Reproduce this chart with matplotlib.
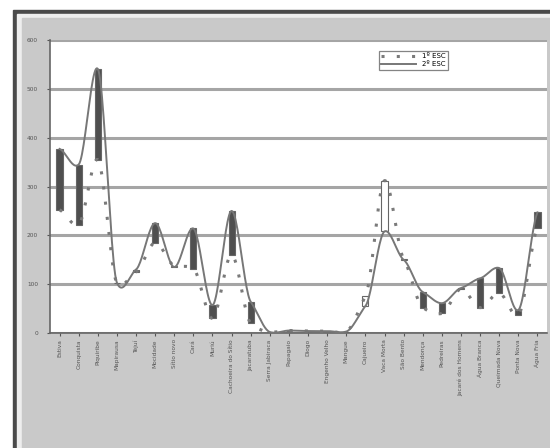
import matplotlib.pyplot as plt
import numpy as np
from matplotlib import patches

# place names (very blurry, best guesses)
locais = ["Estiva", "Conquista", "Piquiribe", "Mapirausa", "Tejuí", "Mocidade",
          "Sítio novo", "Cará", "Muriú", "Cachoeira do Sítio", "Jacaratuba",
          "Serra Jabiraca", "Papagaio", "Diogo", "Engenho Velho", "Mangue",
          "Cajueiro", "Vaca Morta", "São Bento", "Mendonça", "Pedreiras",
          "Jacaré dos Homens", "Água Branca", "Queimada Nova", "Ponta Nova",
          "Água Fria"]
esc1 = [252, 222, 355, 103, 125, 185, 138, 132, 30, 160, 20, 2, 5, 4, 4, 3,
        75, 312, 152, 52, 40, 90, 52, 82, 37, 216]
esc2 = [377, 345, 541, 103, 130, 225, 135, 214, 57, 250, 64, 2, 5, 4, 4, 3,
        55, 208, 150, 84, 61, 92, 112, 133, 47, 247]
yticks = [0, 100, 200, 300, 400, 500, 600]


def smooth(xs, ys, n=24, tension=0.45):
    # smoothed line through the points (hermite, reduced tangents)
    xs = np.asarray(xs, float)
    ys = np.asarray(ys, float)
    m = np.zeros_like(ys)
    m[1:-1] = tension * (ys[2:] - ys[:-2]) / 2
    m[0] = tension * (ys[1] - ys[0])
    m[-1] = tension * (ys[-1] - ys[-2])
    t = np.linspace(0, 1, n)
    h00 = 2 * t ** 3 - 3 * t ** 2 + 1
    h10 = t ** 3 - 2 * t ** 2 + t
    h01 = -2 * t ** 3 + 3 * t ** 2
    h11 = t ** 3 - t ** 2
    out_x, out_y = [], []
    for i in range(len(xs) - 1):
        out_x.append(xs[i] + t * (xs[i + 1] - xs[i]))
        out_y.append(h00 * ys[i] + h10 * m[i] + h01 * ys[i + 1] + h11 * m[i + 1])
    return np.concatenate(out_x), np.concatenate(out_y)


fig = plt.figure(figsize=(5.5, 4.48), dpi=100, facecolor="white")

# scanned chart frame: dark shadow edge + gray chart area
fig.patches.append(patches.Rectangle((13 / 550, 0), 1, 1 - 10 / 448,
                                     transform=fig.transFigure,
                                     color="#4a4a4a", zorder=-10))
fig.patches.append(patches.Rectangle((17 / 550, 0), 1, 1 - 14 / 448,
                                     transform=fig.transFigure,
                                     color="#eeeeee", zorder=-9))
fig.patches.append(patches.Rectangle((22 / 550, 0), 1, 1 - 18 / 448,
                                     transform=fig.transFigure,
                                     color="#c9c9c9", zorder=-8))

ax = fig.add_axes([50 / 550, 115 / 448, 497 / 550, 293 / 448])
ax.set_zorder(1)
ax.set_facecolor("white")

x = np.arange(len(locais))
e1 = np.array(esc1)
e2 = np.array(esc2)

# up/down bars between the two series
diff = e2 - e1
cores = ["#4f4f4f" if d >= 0 else "white" for d in diff]
ax.bar(x, diff, bottom=e1, width=0.32, color=cores, edgecolor="#666666",
       linewidth=0.8, zorder=3)

sx, sy = smooth(x, e1)
ax.plot(sx, sy, color="#7a7a7a", lw=2.2, linestyle=(0, (1.0, 4.0)),
        zorder=4, label="1º ESC")
sx, sy = smooth(x, e2)
ax.plot(sx, sy, color="#777777", lw=1.4, zorder=4, label="2º ESC")

ax.set_xlim(-0.5, len(locais) - 0.5)
ax.set_ylim(0, 600)
ax.set_yticks(yticks)
ax.set_yticklabels([str(v) for v in yticks], fontsize=4.2, color="#444444")
ax.yaxis.grid(True, color="#a5a5a5", lw=2.2)
ax.set_axisbelow(True)
ax.set_xticks(x)
ax.set_xticklabels(locais, rotation=90, fontsize=4.2, color="#444444")
ax.tick_params(axis="both", length=2.5, width=0.8, colors="#555555", pad=2)
ax.tick_params(axis="y", pad=6)
for side in ["top", "right"]:
    ax.spines[side].set_visible(False)
for side in ["left", "bottom"]:
    ax.spines[side].set_color("#666666")
    ax.spines[side].set_linewidth(1.2)

leg = ax.legend(loc="upper left", bbox_to_anchor=(0.654, 0.976), fontsize=5,
                frameon=True, fancybox=False, edgecolor="#666666",
                handlelength=5, borderpad=0.4, labelspacing=0.3)
leg.get_frame().set_linewidth(0.9)

fig.savefig("out.png", dpi=100)
